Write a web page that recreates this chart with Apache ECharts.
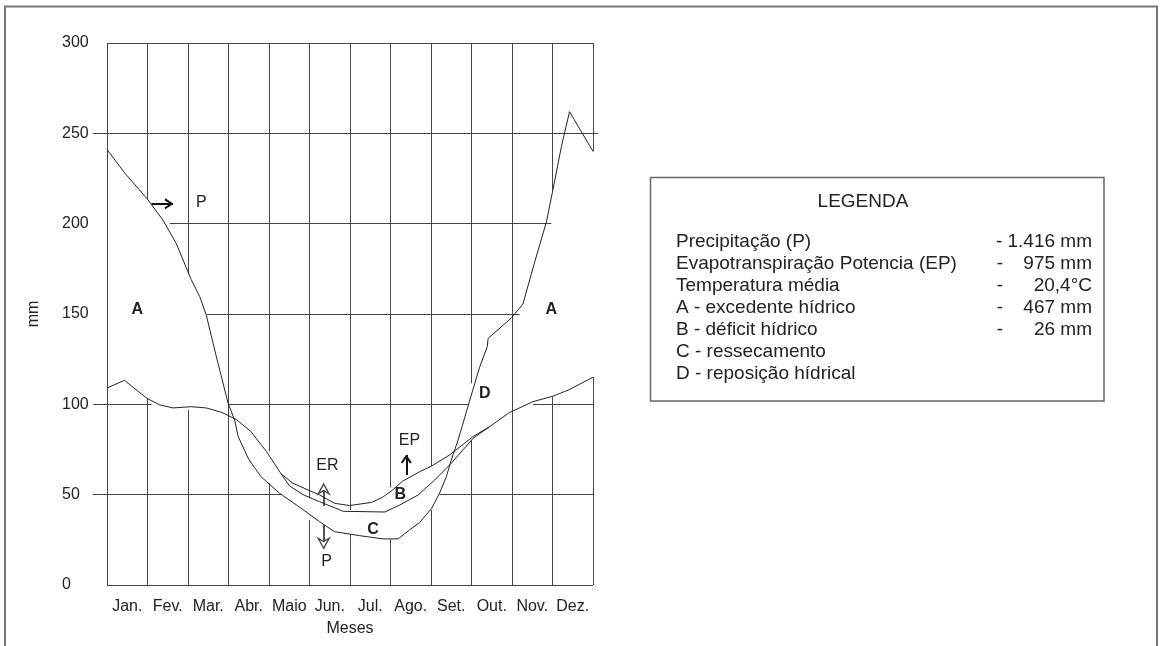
<!DOCTYPE html>
<html>
<head>
<meta charset="utf-8">
<title>Balanço hídrico</title>
<script src="https://cdn.jsdelivr.net/npm/echarts/dist/echarts.min.js"></script>
<style>
  html, body { margin: 0; padding: 0; background: #fff; }
  #chart { width: 1163px; height: 646px; }
</style>
</head>
<body>
<div id="chart"></div>
<script>
// x em meses (0 = início de janeiro, 12 = fim de dezembro), y em mm
const months = ['Jan.', 'Fev.', 'Mar.', 'Abr.', 'Maio', 'Jun.', 'Jul.', 'Ago.', 'Set.', 'Out.', 'Nov.', 'Dez.'];

const precip = [
  [0, 241], [0.44, 228], [1.0, 213.5], [1.38, 202], [1.71, 189], [2.08, 169], [2.29, 159.6],
  [2.45, 149.5], [2.7, 126.4], [2.99, 100.6], [3.15, 91.4], [3.24, 82.1], [3.5, 69.5], [3.8, 60],
  [4.26, 50.8], [4.76, 43], [5.25, 35], [5.62, 29.5], [6.24, 27.3], [6.82, 25.5], [7.19, 25.5],
  [7.47, 30.5], [7.72, 34.6], [8.02, 42.5], [8.21, 50.8], [8.38, 60], [8.5, 69.2], [8.67, 80.3],
  [8.83, 92.5], [8.98, 104], [9.2, 120.5], [9.39, 132], [9.41, 136.5], [9.98, 147.7], [10.27, 155.5],
  [10.55, 178], [10.85, 201], [11.01, 218.7], [11.22, 242.7], [11.42, 262], [12, 240]
];

const evapPot = [
  [0, 109], [0.43, 113.3], [0.98, 103.4], [1.3, 99.7], [1.63, 98], [2.08, 98.7], [2.45, 98],
  [2.84, 95.5], [3.2, 91.5], [3.55, 85], [3.94, 73.8], [4.3, 61.5], [4.59, 56.3], [5.25, 49.8],
  [5.62, 45.2], [5.99, 44], [6.53, 45.7], [6.8, 48.5], [7.05, 52.5], [7.3, 57.5], [7.72, 62.7],
  [8.01, 65.8], [8.46, 72], [9.04, 82.2], [9.45, 87.7], [9.94, 95.5], [10.52, 101.5],
  [11.01, 104.5], [11.4, 108], [12, 115]
];

const evapReal = [
  [4.3, 61.5], [4.5, 55], [4.84, 50], [5.25, 46.1], [5.83, 40.8], [6.86, 40.4], [7.23, 44.3],
  [7.68, 49.8], [8.09, 58.1], [8.5, 67.4], [9.04, 81.2], [9.45, 87.7]
];

// grade desenhada à mão: horizontais [mm, de, até], verticais [mês, de, até]
const gridH = [
  [300, 0, 12], [250, -0.35, 12.12], [200, 1.55, 10.97], [150, 2.47, 10.19],
  [100, -0.35, 1.1], [100, 2.99, 8.91], [100, 10.52, 12],
  [50, -0.35, 4.32], [50, 8.21, 12], [0, 0, 12]
];
const gridV = [
  [0, 0, 300], [1, 213.5, 300], [1, 0, 103.4], [2, 172, 300], [2, 0, 97], [3, 0, 300],
  [4, 74, 300], [4, 0, 56.3], [5, 48, 300], [5, 0, 36], [6, 41.5, 300], [6, 0, 27.7],
  [7, 54, 300], [7, 0, 25.3], [8, 65.8, 300], [8, 0, 41.5], [9, 111.7, 300], [9, 0, 80.3],
  [10, 0, 300], [11, 218.7, 300], [11, 0, 104.3], [12, 240, 300], [12, 0, 115]
];

// anotações [x, y, texto, negrito]
const notes = [
  [0.75, 152.3, 'A', true], [10.97, 152.3, 'A', true], [9.33, 106.1, 'D', true],
  [7.24, 50.2, 'B', true], [6.57, 30.5, 'C', true],
  [2.33, 211.9, 'P', false], [7.47, 79.7, 'EP', false], [5.44, 66.1, 'ER', false], [5.42, 12.9, 'P', false]
];
// setas [x0, y0, x1, y1, tipo]
const arrows = [
  [1.1, 211, 1.63, 211, 'cheia'],
  [7.39, 60.9, 7.39, 72, 'cheia'],
  [5.35, 43.7, 5.35, 55.4, 'vazada'],
  [5.35, 33.2, 5.35, 20.9, 'vazada']
];

const legendLabels = [
  'Precipitação (P)', 'Evapotranspiração Potencia (EP)', 'Temperatura média',
  'A - excedente hídrico', 'B - déficit hídrico', 'C - ressecamento', 'D - reposição hídrical'
];
const legendValues = ['1.416 mm', '975 mm', '20,4°C', '467 mm', '26 mm', '', ''];

const FONT = '"Liberation Sans", Arial, Helvetica, sans-serif';
const INK = '#222';

let gridLines = gridH.map(g => ({ coords: [[g[1], g[0]], [g[2], g[0]]] }))
  .concat(gridV.map(g => ({ coords: [[g[0], g[1]], [g[0], g[2]]] })));

let chevron = 'path://M0,9 L6,0 L12,9 L10,10 L6,4 L2,10 Z';
let hollowHead = 'path://M6,0 L12,9 L6,6 L0,9 Z';

let shafts = arrows.map(a => ({
  coords: [[a[0], a[1]], [a[2], a[3]]],
  lineStyle: a[4] === 'cheia' ? { color: '#111', width: 2 } : { color: '#555', width: 2 }
}));
let heads = arrows.map(a => {
  let rot = a[2] > a[0] ? -90 : (a[3] > a[1] ? 0 : 180);
  let off = rot === -90 ? [-4, 0] : (rot === 0 ? [0, 4] : [0, -4]);
  let solid = a[4] === 'cheia';
  return {
    value: [a[2], a[3]],
    symbol: solid ? chevron : hollowHead,
    symbolSize: solid ? [11, 9] : [11, 10],
    symbolRotate: rot,
    symbolOffset: off,
    itemStyle: solid ? { color: '#111', opacity: 1 } : { color: '#fff', borderColor: '#444', borderWidth: 1.3, opacity: 1 }
  };
});

let legendGraphics = [
  { type: 'rect', shape: { x: 5, y: 6.5, width: 1152, height: 720 },
    style: { fill: 'none', stroke: '#777', lineWidth: 2 } },
  { type: 'rect', shape: { x: 650.5, y: 177.5, width: 453.5, height: 223.5 },
    style: { fill: '#fff', stroke: '#666', lineWidth: 1.5 } },
  { type: 'text', x: 863, y: 202,
    style: { text: 'LEGENDA', font: '19px ' + FONT, fill: INK, textAlign: 'center', textVerticalAlign: 'middle' } }
];
legendLabels.forEach((t, i) => {
  let y = 242 + i * 22;
  legendGraphics.push({ type: 'text', x: 676, y: y,
    style: { text: t, font: '19px ' + FONT, fill: INK, textAlign: 'left', textVerticalAlign: 'middle' } });
  if (legendValues[i]) {
    legendGraphics.push({ type: 'text', x: 1092, y: y,
      style: { text: (i === 0 ? '- ' : '') + legendValues[i], font: '19px ' + FONT, fill: INK,
        textAlign: 'right', textVerticalAlign: 'middle' } });
    if (i > 0) {
      legendGraphics.push({ type: 'text', x: 1000, y: y,
        style: { text: '-', font: '19px ' + FONT, fill: INK, textAlign: 'center', textVerticalAlign: 'middle' } });
    }
  }
});

let option = {
  animation: false,
  textStyle: { fontFamily: FONT },
  grid: { left: 107, top: 43, width: 486, height: 542, outerBoundsMode: 'none' },
  xAxis: [
    {
      type: 'category',
      data: months,
      boundaryGap: true,
      axisLine: { show: false },
      axisTick: { show: false },
      splitLine: { show: false },
      axisLabel: { interval: 0, margin: 14, fontSize: 16, color: INK, fontFamily: FONT },
      name: 'Meses',
      nameLocation: 'middle',
      nameGap: 36,
      nameTextStyle: { fontSize: 16, color: INK, fontFamily: FONT }
    },
    { type: 'value', min: 0, max: 12, show: false }
  ],
  yAxis: {
    type: 'value',
    min: 0,
    max: 300,
    interval: 50,
    axisLine: { show: false },
    axisTick: { show: false },
    splitLine: { show: false },
    axisLabel: { align: 'left', margin: 45, fontSize: 16, color: INK, fontFamily: FONT },
    name: 'mm',
    nameLocation: 'middle',
    nameGap: 65,
    nameRotate: 90,
    nameTextStyle: { fontSize: 16, color: INK, fontFamily: FONT }
  },
  graphic: legendGraphics,
  series: [
    {
      name: 'grade',
      type: 'lines',
      coordinateSystem: 'cartesian2d',
      xAxisIndex: 1,
      clip: false,
      silent: true,
      lineStyle: { color: '#444', width: 1, opacity: 1 },
      data: gridLines
    },
    {
      name: 'P',
      type: 'line',
      xAxisIndex: 1,
      data: precip,
      showSymbol: false,
      clip: false,
      silent: true,
      lineStyle: { color: INK, width: 1 }
    },
    {
      name: 'EP',
      type: 'line',
      xAxisIndex: 1,
      data: evapPot,
      showSymbol: false,
      clip: false,
      silent: true,
      lineStyle: { color: INK, width: 1 }
    },
    {
      name: 'ER',
      type: 'line',
      xAxisIndex: 1,
      data: evapReal,
      showSymbol: false,
      clip: false,
      silent: true,
      lineStyle: { color: INK, width: 1 }
    },
    {
      name: 'hastes',
      type: 'lines',
      coordinateSystem: 'cartesian2d',
      xAxisIndex: 1,
      clip: false,
      silent: true,
      lineStyle: { opacity: 1 },
      data: shafts
    },
    {
      name: 'pontas',
      type: 'scatter',
      xAxisIndex: 1,
      clip: false,
      silent: true,
      z: 5,
      itemStyle: { opacity: 1 },
      data: heads
    },
    {
      name: 'rotulos',
      type: 'scatter',
      xAxisIndex: 1,
      clip: false,
      silent: true,
      symbolSize: 1,
      itemStyle: { color: 'rgba(0,0,0,0)', opacity: 1 },
      label: { show: true, position: 'inside', fontSize: 15, color: INK, fontFamily: FONT },
      data: notes.map(n => ({
        value: [n[0], n[1]],
        label: { formatter: n[2], color: INK, fontWeight: n[3] ? 'bold' : 'normal', fontSize: n[3] ? 16 : 16 }
      }))
    }
  ]
};

let chart = echarts.init(document.getElementById('chart'));
chart.setOption(option);
window.addEventListener('resize', chart.resize, false);
</script>
</body>
</html>
